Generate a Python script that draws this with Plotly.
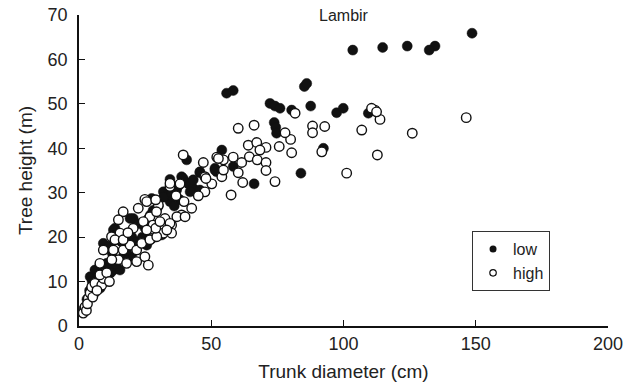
import plotly.graph_objects as go

# ---- data ----
low_x = [148.6, 134.6, 132.4, 124.1, 114.8, 103.5,
         55.8, 58.3, 85.2, 86.1,
         72.2, 74.1, 76.0, 80.4, 87.6, 97.4, 99.9, 109.4,
         73.8, 74.4, 74.7,
         92.4, 83.9, 66.2,
         54.0, 51.4, 52.0, 58.3, 45.7, 40.7, 38.8, 42.0, 43.2,
         34.4, 41.3, 43.2, 31.9, 34.4, 27.5, 20.5, 31.3, 13.6, 33.8, 36.9, 38.2, 42.0, 43.2, 39.4, 45.7, 45.7, 51.4,
         4.2, 6.0, 7.9, 10.5, 9.8, 13.0, 15.5, 9.2, 19.9, 25.6, 13.0, 19.3,
         2.0, 3.0, 4.0, 5.0, 6.5, 7.0, 8.5, 10.0, 11.0, 12.0, 14.0, 17.0, 20.0, 22.0, 24.0, 25.0, 27.0, 30.0,
         32.0, 35.0, 28.0, 26.0, 36.0, 11.5, 16.0, 18.0, 6.0, 8.0, 23.0, 29.5, 37.5, 12.5]
low_y = [65.9, 63.0, 62.1, 63.0, 62.7, 62.1,
         52.4, 53.0, 53.9, 54.6,
         50.1, 49.5, 49.0, 48.6, 49.5, 48.0, 49.0, 47.9,
         45.8, 44.7, 43.4,
         40.0, 34.4, 32.0,
         39.6, 35.5, 34.7, 35.9, 34.5, 37.4, 33.6, 32.2, 30.6,
         33.0, 32.0, 31.0, 30.2, 28.0, 28.7, 24.2, 20.5, 22.0, 29.5, 30.6, 28.4, 30.2, 32.9, 33.2, 30.6, 34.7, 35.1,
         11.1, 12.6, 13.7, 14.1, 12.6, 12.6, 12.6, 18.6, 15.6, 18.2, 21.6, 24.2,
         4.0, 6.0, 8.0, 10.0, 9.0, 11.0, 10.0, 11.5, 13.0, 12.0, 14.0, 16.0, 20.0, 19.0, 20.0, 22.0, 25.0, 27.0,
         29.0, 30.0, 26.0, 24.0, 27.0, 18.0, 19.0, 17.0, 7.5, 8.5, 23.0, 26.5, 31.5, 16.5]

high_x = [146.4, 126.0, 113.8, 111.9, 110.6, 112.5, 112.8, 106.9, 101.2, 91.8, 92.9, 88.3, 88.3, 81.7,
          80.0, 77.9, 75.7, 80.4, 74.1, 66.2, 60.2, 57.5,
          64.0, 67.2, 70.7, 68.4, 64.4, 67.4, 70.7, 70.7, 61.5, 60.2, 61.9, 58.3, 54.6, 52.1, 47.0, 54.0,
          50.2, 47.6, 39.4, 52.7, 48.0, 54.6, 47.6,
          38.2, 34.4, 39.7, 45.1, 42.6, 36.7, 30.0, 24.9, 22.4, 16.7, 26.8, 24.3, 32.5, 35.0, 38.8, 28.0,
          31.9, 35.0, 20.5, 15.5, 12.3, 27.5,
          1.6, 2.3, 3.5, 4.2, 4.8, 6.0, 8.6, 9.2, 7.9, 7.9, 14.9, 12.4, 9.2, 13.0, 16.7, 18.0, 21.8, 24.9,
          19.3, 21.8, 23.7, 26.2, 26.8, 29.4, 29.0, 25.6, 14.9, 13.6, 16.7, 25.6, 29.0, 29.3, 34.4, 30.6,
          37.0, 40.1, 33.2, 34.4, 2.8, 3.2, 5.2, 10.5, 11.5, 18.5, 6.8]
high_y = [46.9, 43.4, 46.5, 48.6, 49.0, 48.2, 38.5, 44.1, 34.4, 39.2, 44.9, 45.0, 43.5, 47.9,
          42.0, 43.5, 40.4, 39.0, 32.5, 45.2, 44.5, 29.5,
          40.7, 41.3, 40.2, 39.6, 38.1, 37.4, 36.8, 35.0, 36.8, 34.5, 32.3, 38.0, 37.4, 38.0, 36.8, 33.6,
          32.0, 33.6, 38.5, 37.7, 33.2, 35.1, 30.2,
          32.0, 31.4, 28.0, 29.3, 26.5, 29.3, 27.2, 28.5, 26.5, 25.7, 24.6, 23.5, 24.2, 22.7, 25.0, 22.7,
          20.9, 20.9, 22.0, 20.9, 20.1, 19.7,
          2.9, 4.3, 6.2, 7.4, 8.8, 9.6, 9.2, 10.7, 11.5, 14.1, 14.9, 14.9, 17.1, 17.1, 17.1, 14.1, 14.5, 15.6,
          18.2, 17.1, 18.6, 13.7, 19.4, 20.1, 22.0, 21.6, 23.9, 19.4, 19.4, 28.0, 28.4, 25.7, 23.1, 23.5,
          24.6, 24.6, 21.6, 32.1, 3.5, 5.0, 6.5, 12.0, 10.0, 21.0, 8.0]

x_ticks = [0, 50, 100, 150, 200]
y_ticks = [0, 10, 20, 30, 40, 50, 60, 70]
series_names = ["low", "high"]
title_text = "Lambir"
x_title = "Trunk diameter (cm)"
y_title = "Tree height (m)"

FONT = "Liberation Sans, Arial, Helvetica, sans-serif"
INK = "#222222"

fig = go.Figure()
fig.add_trace(go.Scatter(x=low_x, y=low_y, mode="markers", name=series_names[0], showlegend=False,
                         marker=dict(symbol="circle", size=10, color="#111111",
                                     line=dict(color="#111111", width=0.5))))
fig.add_trace(go.Scatter(x=high_x, y=high_y, mode="markers", name=series_names[1], showlegend=False,
                         marker=dict(symbol="circle", size=9.5, color="white",
                                     line=dict(color="#111111", width=1.4))))
# legend entries (smaller symbols, as in the reference)
fig.add_trace(go.Scatter(x=[None], y=[None], mode="markers", name=series_names[0],
                         marker=dict(symbol="circle", size=7, color="#111111")))
fig.add_trace(go.Scatter(x=[None], y=[None], mode="markers", name=series_names[1],
                         marker=dict(symbol="circle", size=6.5, color="white",
                                     line=dict(color="#111111", width=1.2))))

axis_common = dict(showgrid=False, zeroline=False, showline=True, linecolor="#111111", linewidth=1.5,
                   ticks="inside", ticklen=6, tickwidth=1.2, tickcolor="#111111", automargin=False,
                   tickfont=dict(family=FONT, size=18, color=INK))

fig.update_xaxes(range=[0, 200], tickvals=x_ticks, ticktext=[str(v) for v in x_ticks],
                 ticklabelstandoff=1,
                 title=dict(text=x_title, font=dict(family=FONT, size=19, color=INK), standoff=11),
                 **axis_common)
fig.update_yaxes(range=[0, 70], tickvals=y_ticks, ticktext=[str(v) for v in y_ticks],
                 ticklabelstandoff=6,
                 title=dict(text=y_title, font=dict(family=FONT, size=19, color=INK), standoff=10),
                 **axis_common)

fig.add_annotation(text=title_text, xref="paper", yref="paper", x=0.5, y=1.0,
                   xanchor="center", yanchor="middle", showarrow=False,
                   font=dict(family=FONT, size=16, color=INK))

fig.update_layout(
    width=633, height=386,
    margin=dict(l=79, r=25, t=15, b=60),
    paper_bgcolor="white", plot_bgcolor="white",
    font=dict(family=FONT, color=INK),
    legend=dict(x=0.743, y=0.305, xanchor="left", yanchor="top",
                bordercolor="#333333", borderwidth=1, bgcolor="white",
                font=dict(family=FONT, size=16, color=INK),
                itemwidth=30, tracegroupgap=0),
)

fig.write_html("out.html")
